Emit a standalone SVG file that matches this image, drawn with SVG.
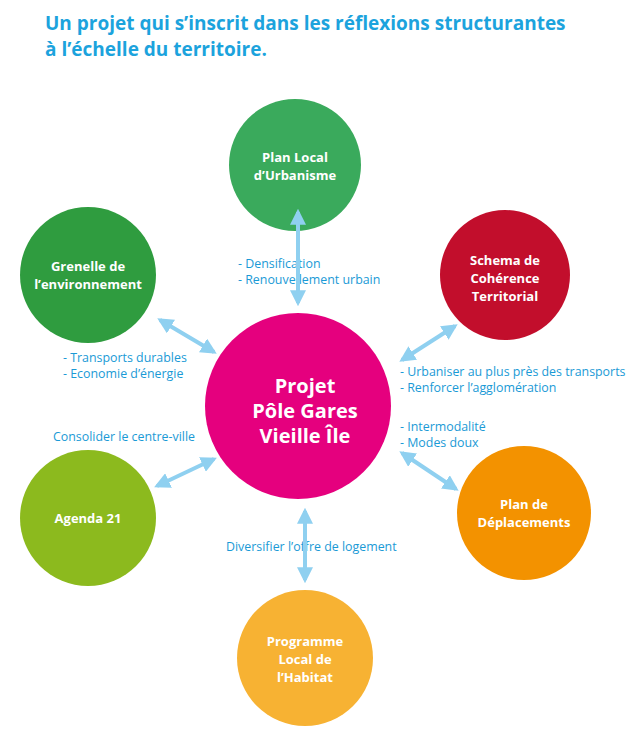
<svg xmlns="http://www.w3.org/2000/svg" width="640" height="743" viewBox="0 0 640 743">
<defs>
<style>
.t{font-family:"Open Sans","Liberation Sans",sans-serif;font-weight:bold;fill:#1ca3dd;font-size:19px}
.l{font-family:"Open Sans","Liberation Sans",sans-serif;fill:#1a9ad6;font-size:12.4px}
.n{font-family:"Open Sans","Liberation Sans",sans-serif;font-weight:bold;fill:#fff;font-size:13px;text-anchor:middle}
.c{stroke:#8fd0f0;stroke-width:4;fill:none;marker-start:url(#a);marker-end:url(#a)}
</style>
<marker id="a" viewBox="0 0 10 10" refX="8" refY="5" markerWidth="4" markerHeight="4" orient="auto-start-reverse"><path d="M0,0L10,5L0,10z" fill="#8fd0f0"/></marker>
</defs>
<rect width="640" height="743" fill="#fff"/>
<text class="t" x="45" y="30">Un projet qui s’inscrit dans les réflexions structurantes</text>
<text class="t" x="45" y="56">à l’échelle du territoire.</text>
<g id="labels">
<text class="l" x="238" y="268">- Densification</text>
<text class="l" x="238" y="284">- Renouvellement urbain</text>
<text class="l" x="63" y="362">- Transports durables</text>
<text class="l" x="63" y="378">- Economie d’énergie</text>
<text class="l" x="400" y="376">- Urbaniser au plus près des transports</text>
<text class="l" x="400" y="392">- Renforcer l’agglomération</text>
<text class="l" x="53" y="441">Consolider le centre-ville</text>
<text class="l" x="400" y="431">- Intermodalité</text>
<text class="l" x="400" y="447">- Modes doux</text>
<text class="l" x="226" y="551">Diversifier l’offre de logement</text>
</g>
<g id="center"><circle cx="298" cy="406" r="93" fill="#e5007e"/>
<text class="n" style="font-size:20px" x="305" y="393">Projet</text>
<text class="n" style="font-size:20px" x="305" y="418">Pôle Gares</text>
<text class="n" style="font-size:20px" x="305" y="443">Vieille Île</text></g>
<g id="plu"><circle cx="295" cy="165" r="66" fill="#3aaa5c"/>
<text class="n" x="295" y="162">Plan Local</text><text class="n" x="295" y="180">d’Urbanisme</text></g>
<g id="grenelle"><circle cx="88" cy="275" r="68" fill="#2f9c3f"/>
<text class="n" x="88" y="271">Grenelle de</text><text class="n" x="88" y="289">l’environnement</text></g>
<g id="scot"><circle cx="505" cy="275" r="65" fill="#c20e2c"/>
<text class="n" x="505" y="265">Schema de</text><text class="n" x="505" y="283">Cohérence</text><text class="n" x="505" y="301">Territorial</text></g>
<g id="agenda"><circle cx="88" cy="518" r="68" fill="#8cba1e"/>
<text class="n" x="88" y="523">Agenda 21</text></g>
<g id="pdu"><circle cx="524" cy="513" r="67" fill="#f39200"/>
<text class="n" x="524" y="509">Plan de</text><text class="n" x="524" y="527">Déplacements</text></g>
<g id="plh"><circle cx="305" cy="658" r="68" fill="#f7b233"/>
<text class="n" x="305" y="646">Programme</text><text class="n" x="305" y="664">Local de</text><text class="n" x="305" y="682">l’Habitat</text></g>
<g id="connectors">
<line class="c" x1="298" y1="212" x2="298" y2="303"/>
<line class="c" x1="160" y1="320" x2="214" y2="352"/>
<line class="c" x1="402" y1="360" x2="455" y2="326"/>
<line class="c" x1="157" y1="486" x2="214" y2="459"/>
<line class="c" x1="402" y1="453" x2="456" y2="489"/>
<line class="c" x1="305" y1="511" x2="305" y2="580"/>
</g>
</svg>
